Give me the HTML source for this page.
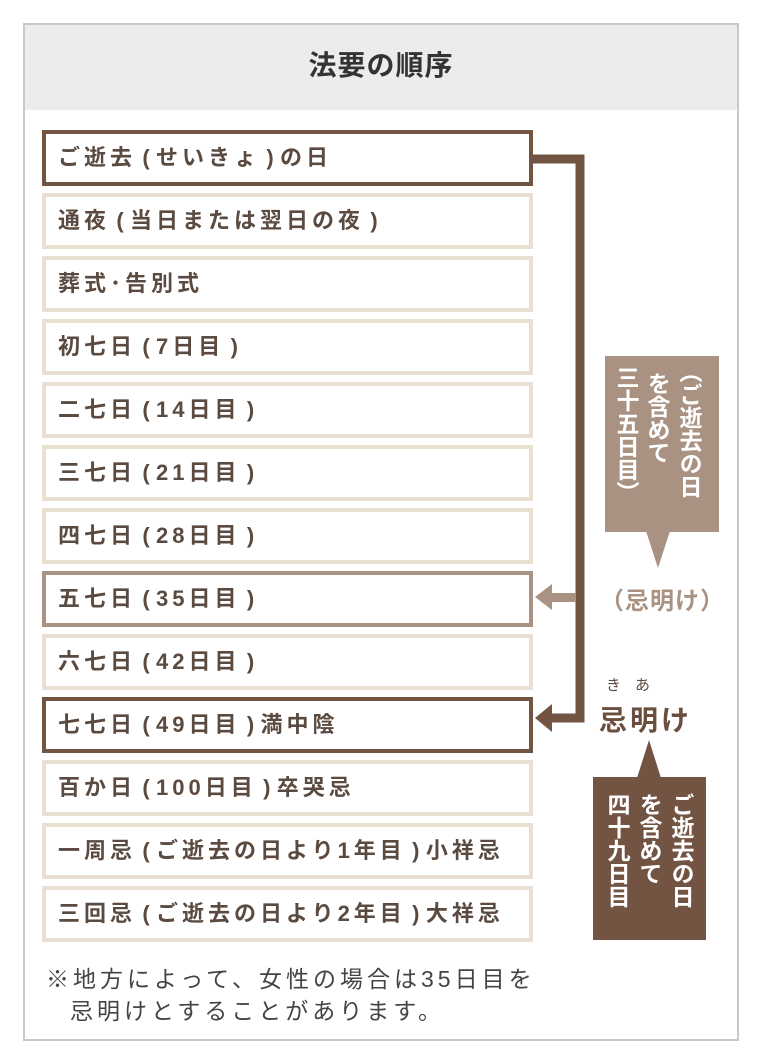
<!DOCTYPE html>
<html><head><meta charset="utf-8"><style>
*{margin:0;padding:0;box-sizing:border-box}
body{width:760px;height:1061px;background:#fff;position:relative;font-family:"Liberation Sans","Noto Sans CJK JP",sans-serif;overflow:hidden}
.frame{position:absolute;left:23px;top:23px;width:716px;height:1018px;border:2px solid #c9c9c9}
.hdr{position:absolute;left:25px;top:25px;width:712px;height:85px;background:#ececec;text-align:center;font-size:28px;font-weight:bold;color:#333;line-height:82px;letter-spacing:1px}
.row{position:absolute;left:42px;width:491px;height:56px;border:4px solid #e9e0d1;font-size:22px;font-weight:bold;color:#5a4a40;padding-left:12px;line-height:48px;letter-spacing:4px;white-space:nowrap}
.row b{display:inline-block;width:20px;text-align:center;letter-spacing:0}
.d{border-color:#735443}
.m{border-color:#a99282}
.v{position:absolute;writing-mode:vertical-rl;color:#fff;font-size:23px;font-weight:bold;line-height:28px;letter-spacing:0}
.note{position:absolute;left:46px;font-size:23px;color:#444;line-height:32px;letter-spacing:4px;white-space:nowrap}
</style></head><body>
<div class="frame"></div>
<div class="hdr">法要の順序</div>
<div class="row d" style="top:130px">ご逝去<b>(</b>せいきょ<b>)</b>の日</div>
<div class="row" style="top:193px">通夜<b>(</b>当日または翌日の夜<b>)</b></div>
<div class="row" style="top:256px">葬式･告別式</div>
<div class="row" style="top:319px">初七日<b>(</b>7日目<b>)</b></div>
<div class="row" style="top:382px">二七日<b>(</b>14日目<b>)</b></div>
<div class="row" style="top:445px">三七日<b>(</b>21日目<b>)</b></div>
<div class="row" style="top:508px">四七日<b>(</b>28日目<b>)</b></div>
<div class="row m" style="top:571px">五七日<b>(</b>35日目<b>)</b></div>
<div class="row" style="top:634px">六七日<b>(</b>42日目<b>)</b></div>
<div class="row d" style="top:697px">七七日<b>(</b>49日目<b>)</b>満中陰</div>
<div class="row" style="top:760px">百か日<b>(</b>100日目<b>)</b>卒哭忌</div>
<div class="row" style="top:823px">一周忌<b>(</b>ご逝去の日より1年目<b>)</b>小祥忌</div>
<div class="row" style="top:886px">三回忌<b>(</b>ご逝去の日より2年目<b>)</b>大祥忌</div>
<svg style="position:absolute;left:0;top:0" width="760" height="1061">
<path d="M533 159 H580 V718 H548" fill="none" stroke="#735443" stroke-width="9"/>
<polygon points="535,718 552,704 552,732" fill="#735443"/>
<rect x="548" y="593" width="28" height="9" fill="#a99282"/>
<polygon points="535,597 552,584 552,610" fill="#a99282"/>
<rect x="605" y="356" width="114" height="176" fill="#a99282"/>
<polygon points="646,531 670,531 658,568" fill="#a99282"/>
<rect x="593" y="777" width="113" height="163" fill="#735443"/>
<polygon points="637,778 661,778 649,740" fill="#735443"/>
</svg>
<div class="v" style="left:612px;top:366px;height:165px">三十五日目）</div>
<div class="v" style="left:643px;top:372px;height:160px">を含めて</div>
<div class="v" style="left:675px;top:360px;height:165px">（ご逝去の日</div>
<div class="v" style="left:603px;top:793px;height:150px">四十九日目</div>
<div class="v" style="left:635px;top:793px;height:150px">を含めて</div>
<div class="v" style="left:667px;top:793px;height:150px">ご逝去の日</div>
<div style="position:absolute;left:600px;top:581px;font-size:24px;font-weight:bold;color:#a99282;letter-spacing:1px">（忌明け）</div>
<div style="position:absolute;left:606px;top:674px;font-size:15px;color:#5a4a40;letter-spacing:14px">きあ</div>
<div style="position:absolute;left:599px;top:699px;font-size:28px;font-weight:bold;color:#6a4e3e;letter-spacing:3px">忌明け</div>
<div class="note" style="top:963px">※地方によって、女性の場合は35日目を</div>
<div class="note" style="top:995px;left:70px">忌明けとすることがあります。</div>
</body></html>
